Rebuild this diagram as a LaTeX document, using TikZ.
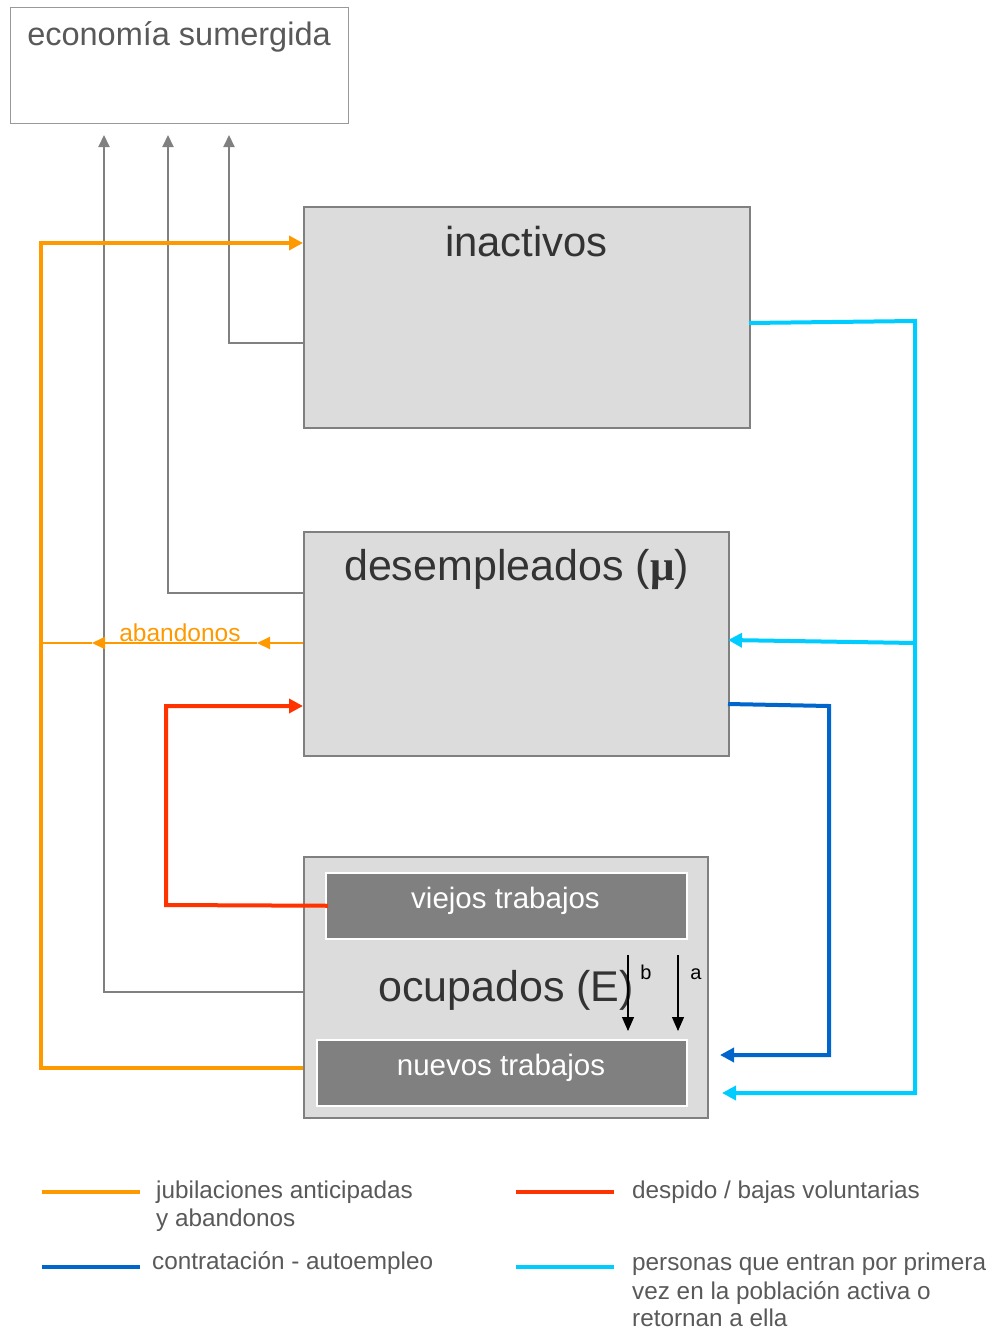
\documentclass[tikz,border=0pt]{standalone}
\usepackage{fontspec}
\setmainfont{Liberation Sans}
\newfontfamily\serifmu{Liberation Serif}
\usetikzlibrary{arrows.meta}
\definecolor{boxfill}{HTML}{DCDCDC}
\definecolor{boxline}{HTML}{808080}
\definecolor{darkfill}{HTML}{808080}
\definecolor{txtgray}{HTML}{595959}
\definecolor{txtdark}{HTML}{333333}
\definecolor{orangeC}{HTML}{FF9900}
\definecolor{redC}{HTML}{FF3300}
\definecolor{blueC}{HTML}{0066CC}
\definecolor{cyanC}{HTML}{00CCFF}
\definecolor{grayC}{HTML}{808080}
\tikzset{
  bigbox/.style={draw=boxline, fill=boxfill, line width=1.5pt, anchor=north west, inner sep=0pt},
  innerbox/.style={draw=white, fill=darkfill, line width=1.5pt, anchor=north west, inner sep=0pt},
  title/.style={font=\fontsize{43}{48}\selectfont, text=txtdark, anchor=base, inner sep=0pt},
  innertxt/.style={font=\fontsize{29.5}{33}\selectfont, text=white, anchor=base, inner sep=0pt},
  legtxt/.style={font=\fontsize{24.3}{28}\selectfont, text=txtgray, anchor=base west, inner sep=0pt},
  grayflow/.style={draw=grayC, line width=2pt},
  grayarr/.style={grayflow, -{Triangle[length=12pt,width=11pt]}},
  thick4/.style={line width=4pt},
  tipbig/.style={-{Triangle[length=14pt,width=14pt]}},
  blackarr/.style={draw=black, line width=1.1pt, -{Triangle[length=14pt,width=12pt]}},
}
\begin{document}
\begin{tikzpicture}[x=1pt,y=-1pt]
\useasboundingbox (0,0) rectangle (995,1333);

% economia sumergida
\node[draw=boxline!80, line width=1pt, fill=white, anchor=north west, minimum width=338pt, minimum height=116pt, inner sep=0pt] (eco) at (10,7) {};
\node[font=\fontsize{32.5}{36}\selectfont, text=txtgray, anchor=base, inner sep=0pt] (ecot) at (179,45) {economía sumergida};

% main boxes
\node[bigbox, minimum width=446pt, minimum height=221pt] (ina) at (303,206) {};
\node[title, font=\fontsize{41.8}{46}\selectfont] (inat) at (526.5,256) {inactivos};

\node[bigbox, minimum width=425pt, minimum height=224pt] (des) at (303,531) {};
\node[title] (dest) at (516.5,580) {desempleados ({\serifmu\bfseries μ})};

\node[bigbox, minimum width=404pt, minimum height=261pt] (ocu) at (303,856) {};
\node[innerbox, minimum width=361pt, minimum height=66pt] (vie) at (325,872) {};
\node[innertxt] (viet) at (505.5,908) {viejos trabajos};
\node[innerbox, minimum width=370pt, minimum height=66pt] (nue) at (316,1039) {};
\node[innertxt] (nuet) at (501,1075) {nuevos trabajos};
\node[title] (ocut) at (506,1001) {ocupados (E)};

% b and a arrows
\coordinate (bs) at (628,955); \coordinate (be) at (628,1031);
\coordinate (as) at (678,955); \coordinate (ae) at (678,1031);
\draw[blackarr] (bs) -- (be);
\draw[blackarr] (as) -- (ae);
\node[font=\fontsize{20}{24}\selectfont, anchor=base, inner sep=0pt] (bl) at (646,979) {b};
\node[font=\fontsize{20}{24}\selectfont, anchor=base, inner sep=0pt] (al) at (696,979) {a};

% gray flows to economia sumergida
\coordinate (g1a) at (229,343); \coordinate (g1b) at (229,135);
\coordinate (g2a) at (168,593); \coordinate (g2b) at (168,135);
\coordinate (g3a) at (104,992); \coordinate (g3b) at (104,135);
\draw[grayarr] (ina.west |- g1a) -- (g1a) -- (g1b);
\draw[grayarr] (des.west |- g2a) -- (g2a) -- (g2b);
\draw[grayarr] (ocu.west |- g3a) -- (g3a) -- (g3b);

% orange: jubilaciones
\coordinate (o1) at (41,1068); \coordinate (o2) at (41,243);
\draw[orangeC, thick4, tipbig] (ocu.west |- o1) -- (o1) -- (o2) -- (ina.west |- o2);

% orange abandonos
\coordinate (ab1) at (257,643); \coordinate (ab2) at (92,643); \coordinate (ab3) at (41,643);
\draw[orangeC, line width=2pt, -{Triangle[length=13pt,width=12pt]}] (des.west |- ab1) -- (ab1);
\draw[orangeC, line width=2pt, -{Triangle[length=13pt,width=12pt]}] (ab1) -- (ab2);
\draw[orangeC, line width=2pt] (ab2) -- (ab3);
\node[font=\fontsize{24.5}{28}\selectfont, text=orangeC, anchor=base, inner sep=0pt] (abt) at (180,641) {abandonos};

% red: despido
\coordinate (r1) at (166,905); \coordinate (r2) at (166,706);
\draw[redC, thick4, tipbig] ([xshift=3pt]vie.west) -- (r1) -- (r2) -- (des.west |- r2);

% dark blue: contratacion
\coordinate (d0) at (728,704); \coordinate (d1) at (829,706); \coordinate (d2) at (829,1055); \coordinate (d3) at (720,1055);
\draw[blueC, thick4, tipbig] (d0) -- (d1) -- (d2) -- (d3);

% cyan: personas que entran
\coordinate (c0) at (749,323); \coordinate (c1) at (915,321); \coordinate (c2) at (915,1093);
\coordinate (cm) at (915,643); \coordinate (cd) at (728,640); \coordinate (c3) at (722,1093);
\draw[cyanC, thick4, tipbig] (c0) -- (c1) -- (c2) -- (c3);
\draw[cyanC, thick4, tipbig] (cm) -- (cd);

% legend
\coordinate (l1a) at (42,1192); \coordinate (l1b) at (140,1192);
\coordinate (l2a) at (516,1192); \coordinate (l2b) at (614,1192);
\coordinate (l3a) at (42,1267); \coordinate (l3b) at (140,1267);
\coordinate (l4a) at (516,1267); \coordinate (l4b) at (614,1267);
\draw[orangeC, thick4] (l1a) -- (l1b);
\draw[redC, thick4] (l2a) -- (l2b);
\draw[blueC, thick4] (l3a) -- (l3b);
\draw[cyanC, thick4] (l4a) -- (l4b);
\node[legtxt] (t1) at (156,1198) {jubilaciones anticipadas};
\node[legtxt] (t1b) at (156,1226) {y abandonos};
\node[legtxt] (t2) at (632,1198) {despido / bajas voluntarias};
\node[legtxt] (t3) at (152,1269) {contratación - autoempleo};
\node[legtxt] (t4) at (632,1270) {personas que entran por primera};
\node[legtxt] (t4b) at (632,1299) {vez en la población activa o};
\node[legtxt] (t4c) at (632,1326) {retornan a ella};
\end{tikzpicture}
\end{document}
